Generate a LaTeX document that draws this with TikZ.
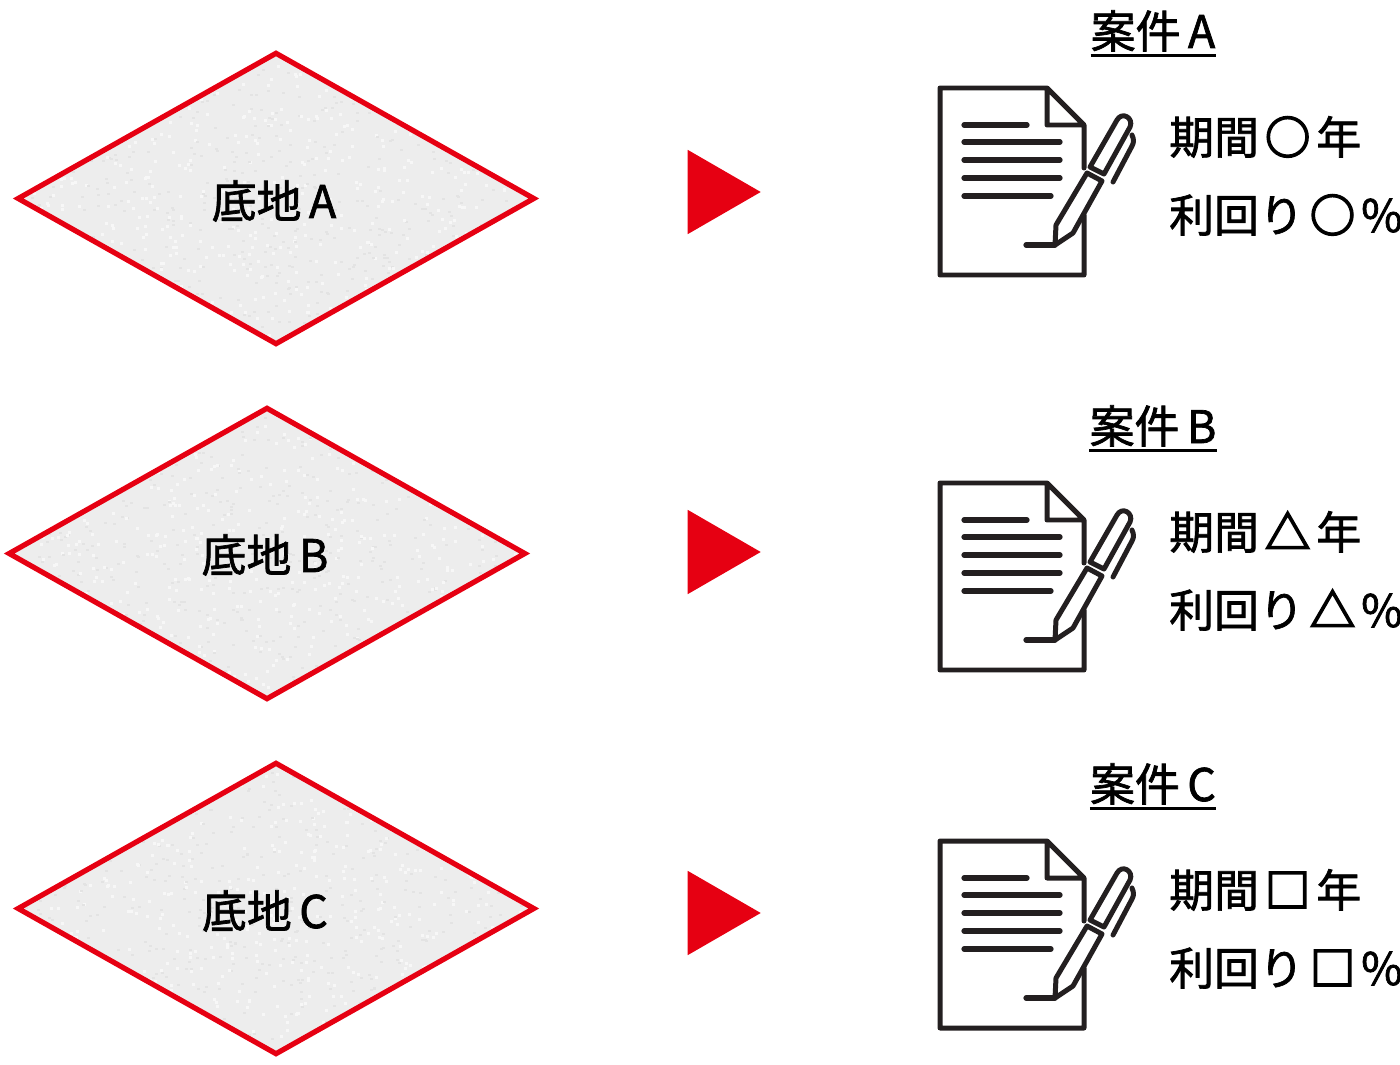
\documentclass[tikz,border=0pt]{standalone}
\usepackage{fontspec}
\setmainfont{Noto Sans CJK JP}[FakeBold=1.6]
\newfontfamily\symfont{Noto Sans CJK JP}[FakeBold=4.5]
\usetikzlibrary{shapes.geometric}
\definecolor{markred}{HTML}{E60012}
\definecolor{inkgray}{HTML}{231F20}
\newcommand{\speckle}{%
    \foreach \i in {1,...,600} {
        \pgfmathsetmacro{\xx}{260*rand}
        \pgfmathsetmacro{\yy}{147*rand}
        \fill[black!3] (\xx,\yy) rectangle ++(3,3);
        \pgfmathsetmacro{\xx}{260*rand}
        \pgfmathsetmacro{\yy}{147*rand}
        \fill[black!11] (\xx,\yy) rectangle ++(3,2);
    }}
\newcommand{\gap}{\kern5pt}
\tikzset{
    plot/.style={diamond,draw=markred,line width=4.2pt,fill=black!7,aspect=1.78,inner sep=0pt,
        minimum width=14.6cm,minimum height=8.25cm,path picture={\speckle}},
    marker/.style={isosceles triangle,fill=markred,isosceles triangle apex angle=60,inner sep=0pt,
        minimum height=2.04cm,minimum width=2.38cm,shape border rotate=0},
    plotname/.style={font=\fontsize{36}{36}\selectfont,inner sep=0pt},
    title/.style={font=\fontsize{36}{36}\selectfont,inner sep=0pt,anchor=base},
    term/.style={font=\fontsize{36}{36}\selectfont,inner sep=0pt,anchor=base west},
    uline/.style={draw=black,line width=2pt},
    sheet/.style={draw=inkgray,line width=4pt,line join=round,line cap=round},
    rule/.style={draw=inkgray,line width=4.2pt,line cap=round},
}
\newcommand{\docicon}[2]{%
    \begin{scope}[shift={(#1,#2)},x=0.0282cm,y=-0.0282cm]
    \draw[sheet] (84,125) -- (84,168) (84,215) -- (84,275) -- (-60,275) -- (-60,88) -- (47,88) -- (84,125) -- (47,125) -- (47,88);
    \foreach \yy/\xx in {125/27,142/60,160/60,178/60,196/51}
        \draw[rule] (-36,\yy) -- (\xx,\yy);
    \draw[rule] (26,245) -- (55,245);
    \draw[sheet] (55,245) -- (56,225) -- (87,173) -- (102,181) -- (73,233) -- (55,245);
    \draw[sheet] (90,167) -- (117,120) .. controls (122,111) and (134,118) .. (130,127) -- (104,174) -- cycle;
    \draw[sheet] (132,135) .. controls (134,140) and (134,142) .. (132,146) -- (113,182);
    \end{scope}}
\begin{document}
\begin{tikzpicture}[x=0.0282cm,y=-0.0282cm]
    \useasboundingbox (0,0) rectangle (1400,1065);
    \pgfmathsetseed{42}
    % left column
    \node[plot] (plotA) at (276,198.5) {};
    \node[plot] (plotB) at (267,553.5) {};
    \node[plot] (plotC) at (276,908.5) {};
    \node[plotname] (nameA) at (274,201) {底地\,A};
    \node[plotname] (nameB) at (265,555) {底地\,B};
    \node[plotname] (nameC) at (265,911) {底地\,C};
    \node[marker] (markA) at (712,192) {};
    \node[marker] (markB) at (712,552) {};
    \node[marker] (markC) at (712,913) {};
    % right column
    \node[title] (caseA) at (1153,48) {案件\,A};
    \node[title] (caseB) at (1153,443) {案件\,B};
    \node[title] (caseC) at (1153,801) {案件\,C};
    \foreach \c in {caseA,caseB,caseC}
        \draw[uline] ([yshift=-6pt]\c.base west) -- ([yshift=-6pt]\c.base east);
    \docicon{1000}{0}
    \docicon{1000}{395}
    \docicon{1000}{753}
    \node[term] (spanA) at (1169,154) {期間\gap{\symfont ○}\gap 年};
    \node[term] (rateA) at (1169,232) {利回り\gap{\symfont ○}\gap\%};
    \node[term] (spanB) at (1169,549) {期間\gap{\symfont △}\gap 年};
    \node[term] (rateB) at (1169,627) {利回り\gap{\symfont △}\gap\%};
    \node[term] (spanC) at (1169,907) {期間\gap{\symfont □}\gap 年};
    \node[term] (rateC) at (1169,985) {利回り\gap{\symfont □}\gap\%};
\end{tikzpicture}
\end{document}
